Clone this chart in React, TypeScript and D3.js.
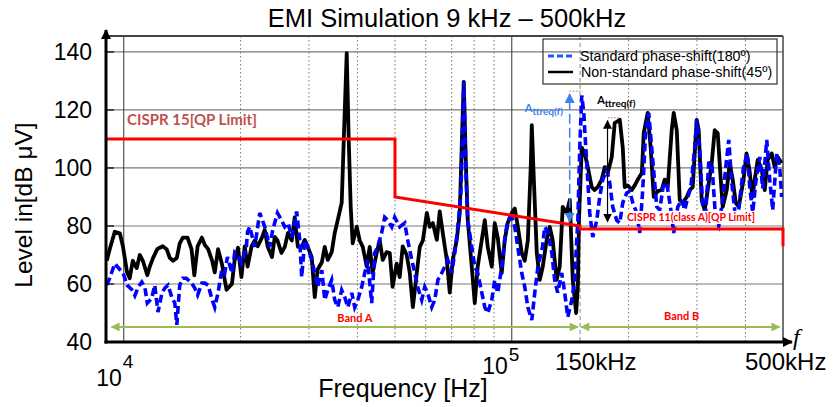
import React from 'react';
import * as d3 from 'd3';

// spectra: [frequency kHz, level dBµV]
const blackSpectrum: [number, number][] = [
  [9.04, 68], [9.2, 72], [9.48, 78], [9.77, 77.5], [9.95, 73], [10.2, 64], [10.36, 62], [10.55, 68], [10.8, 65.5], [11.0, 70],
  [11.2, 68], [11.5, 63], [11.67, 66], [11.9, 69], [12.2, 72], [12.38, 72.5], [12.6, 73], [12.9, 72], [13.14, 69], [13.4, 68],
  [13.7, 69], [13.94, 74], [14.2, 76], [14.6, 76], [14.95, 72], [15.2, 63], [15.5, 73], [15.9, 76], [16.17, 73.5], [16.5, 72],
  [16.9, 68], [17.16, 64], [17.5, 72], [17.9, 67], [18.4, 58], [19.0, 60], [19.3, 68], [19.7, 72.5], [20.1, 62.4], [20.5, 73],
  [20.85, 66], [21.35, 73], [21.76, 75], [22.15, 73], [22.7, 76], [23.09, 78.6], [23.5, 72.8], [24.1, 69.3], [24.5, 76.2], [24.9, 75],
  [25.5, 70.7], [26.0, 72.8], [26.5, 77.6], [27.1, 75], [27.58, 83], [28.1, 72.8], [28.75, 72.8], [29.27, 75.2], [29.8, 72.8], [30.5, 69.3],
  [31.06, 55.5], [31.6, 65], [32.4, 67.5], [32.96, 72.8], [33.55, 68.3], [34.35, 71], [34.97, 77.6], [35.6, 82], [36.45, 88], [36.9, 109.7],
  [37.55, 139.6], [38.0, 109.7], [38.45, 86.6], [38.9, 74], [39.85, 79.7], [40.56, 75], [41.3, 72.8], [42.3, 66], [43.04, 72.8], [43.8, 63.8],
  [44.85, 70.7], [45.68, 75], [46.5, 68.3], [47.6, 71], [48.47, 70.7], [49.3, 59], [50.5, 67], [51.43, 62.4], [52.35, 73], [53.6, 70],
  [54.57, 64], [55.6, 52], [56.9, 63.8], [57.93, 72.8], [59.0, 75], [60.4, 84.5], [61.47, 79.7], [62.6, 81], [64.1, 75.2], [65.22, 85],
  [66.4, 77.6], [68.0, 68.3], [69.21, 57], [70.45, 68.3], [72.15, 75.2], [73.44, 84.5], [74.55, 114], [75.2, 129.7], [76.1, 102.8], [77.0, 82],
  [78.85, 66], [80.28, 53.4], [81.7, 66], [83.7, 75.2], [85.19, 82], [86.7, 72.8], [88.8, 66], [90.39, 81], [92.0, 76], [94.2, 63.8],
  [95.92, 75.2], [97.6, 81], [100.0, 84.5], [101.8, 86], [103.6, 80], [106.1, 70.7], [108, 68], [110, 75], [112, 101.7], [112.6, 114.8],
  [114, 95.9], [116, 70.7], [118.1, 61.4], [120.2, 66], [123, 75.2], [125.3, 79.7], [127.5, 75], [130.5, 61.4], [132.9, 66], [135.3, 86.6],
  [138.5, 84.5], [141.1, 89], [143.6, 61.4], [146.5, 50], [148, 59], [149, 82], [151.5, 107], [154.2, 105], [157, 100.3], [160.7, 93.4],
  [163.6, 92.4], [166.5, 93.4], [170.5, 96], [173.6, 100.3], [176.8, 98.3], [181, 103.8], [184.2, 115.5], [189.8, 116.6], [193.2, 107], [195.5, 93.4],
  [199, 94], [203.8, 92.4], [207.4, 94], [211.2, 96], [216.4, 98.3], [218.8, 112], [224, 119], [228, 107], [232.2, 90], [237.8, 92],
  [243.4, 92.4], [247.8, 96], [252.3, 93.4], [258.3, 113], [261.4, 119], [266.2, 113], [270.9, 89], [275.8, 88], [282.4, 90], [287.5, 92.4],
  [292.6, 93.4], [299.6, 116.6], [303.2, 113], [308.6, 89], [314.2, 85.5], [319.9, 92.4], [327.6, 101.7], [333.4, 113], [339.4, 112], [345.6, 96],
  [349.7, 86.6], [358.1, 92.4], [364.5, 101.7], [371, 96], [377.7, 88], [384.5, 86.6], [395.6, 96], [402.6, 105], [409.8, 99.3], [417, 90],
  [422.8, 96], [430.4, 102.8], [440.8, 99.3], [448.6, 92.4], [456.6, 102.8], [467.6, 105], [476.1, 100.3], [484.6, 103.8], [496, 101.7],
];

const blueSpectrum: [number, number][] = [
  [9.04, 59.6], [9.2, 62], [9.48, 67], [9.77, 65], [9.95, 64], [10.2, 59.6], [10.5, 58], [10.68, 56], [10.9, 59], [11.13, 60.7],
  [11.33, 59], [11.5, 53.4], [11.8, 55], [12.02, 59.6], [12.25, 50.3], [12.55, 57], [12.76, 58.6], [13.0, 59.6], [13.3, 55.5], [13.54, 53.4],
  [13.7, 45.9], [13.94, 59.6], [14.2, 62], [14.5, 62], [14.95, 60.3], [15.24, 58.6], [15.5, 56.2], [15.9, 60.3], [16.17, 60.3], [16.5, 59.6],
  [16.9, 54.5], [17.16, 52], [17.5, 57], [17.9, 65], [18.21, 63.8], [18.5, 69.3], [19.0, 63.8], [19.32, 70.7], [19.7, 69.3], [20.1, 67.2],
  [20.7, 72.8], [20.85, 78], [21.12, 79.7], [21.76, 72.8], [22.41, 84.5], [23.09, 79.7], [23.78, 72.8], [24.2, 78.6], [24.9, 84.5], [25.5, 82],
  [25.99, 79.7], [26.5, 81], [27.1, 76.2], [27.9, 85], [28.41, 75.2], [28.75, 62.4], [29.27, 75.2], [29.8, 72.8], [30.5, 68.3], [31.06, 63.8],
  [31.6, 59], [32.4, 64.8], [32.96, 54.5], [33.55, 57.9], [34.35, 61.4], [34.97, 54.5], [35.6, 52], [36.45, 57.9], [37.11, 55.5], [37.8, 52],
  [38.7, 56.9], [39.38, 52], [40.1, 54.5], [41.05, 59], [41.79, 63.8], [42.5, 68.3], [43.55, 53.4], [44.34, 70.7], [45.1, 72.8], [46.2, 77.6],
  [47.05, 83], [47.9, 82], [49.05, 79.7], [49.93, 83], [51.43, 79.7], [52.98, 81], [53.9, 75.2], [55.25, 68.3], [56.23, 63.8], [57.2, 59],
  [58.6, 54.5], [59.67, 59], [60.7, 56.9], [62.2, 52], [63.32, 54.5], [64.5, 61.4], [66, 63.8], [67.19, 66], [68.4, 68.3], [70.0, 63.8],
  [71.3, 70.7], [72.6, 79.7], [73.9, 91], [74.8, 114], [75.2, 129.7], [76.1, 101], [77.0, 82], [78.85, 72.8], [80.28, 66], [81.7, 63.8],
  [83.7, 57], [85.19, 52], [86.7, 50], [88.8, 54.5], [90.39, 61.4], [92.0, 56.9], [94.2, 66], [95.92, 75.2], [97.6, 82], [100, 83],
  [101.8, 79.7], [103.6, 72.8], [106.1, 63.8], [108, 59], [110, 52], [112.6, 47.6], [114.6, 56.9], [116.8, 66], [120, 72.8], [121.6, 79.7],
  [123.8, 78], [126.8, 70.7], [129, 61.4], [131.3, 57], [134.5, 63.8], [136.9, 57], [139.4, 48.6], [142.8, 54.5], [145.3, 61.4], [147, 75],
  [148, 82], [149.7, 107], [151.5, 125], [153.3, 119], [156, 101.7], [158.8, 84.5], [161.7, 76.2], [165.6, 82], [168.5, 90], [171.6, 96],
  [175.7, 99.3], [178.8, 95], [182, 86.6], [186.4, 82], [189.8, 81], [193.2, 88], [197.8, 91.4], [201.4, 92], [205, 88], [209.9, 84.5],
  [213.7, 77.6], [217.5, 92.4], [221.4, 113], [225.4, 119], [229.4, 107], [236.4, 86.6], [240.6, 85.5], [245.4, 93.4], [250.8, 95], [257, 85.5],
  [261.4, 77.6], [267.8, 86.6], [274.2, 89], [279.1, 85.5], [284.2, 90], [289.2, 93], [296.1, 107], [299.6, 116.6], [305, 107], [310.5, 86.6],
  [316, 84.5], [321.8, 101.7], [327.6, 102], [335.4, 82], [341.4, 80], [349.7, 89], [356, 100.3], [362.4, 109.7], [368.8, 95], [377.7, 82],
  [384.5, 86], [395.6, 100.3], [405, 105], [410.4, 93.4], [417.8, 84.5], [425.3, 95], [435.5, 103.8], [443.3, 93], [454, 109.7], [462.1, 96],
  [470.4, 85.5], [481.8, 105], [490.4, 100.3], [496, 90],
];

// CISPR 15 / CISPR 11 (class A) quasi-peak limit
const limitFreq = [9, 50, 50, 150, 150, 500, 500];
const limitLevel = [110, 110, 90, 80, 79, 79, 73];

const levelTicks = [40, 60, 80, 100, 120, 140];
const decadeFreqs = [10, 100];
const minorFreqs = [20, 30, 40, 50, 60, 70, 80, 90, 200, 300, 400];
const bandEdge = 150;
const seriesNames = ['Standard phase-shift(180º)', 'Non-standard phase-shift(45º)'];

const SANS = '"Liberation Sans", Arial, sans-serif';
const CAL = 'Lato, "Open Sans", sans-serif';

export default function App() {
  const W = 837;
  const H = 407;
  const left = 106, right = 783, top = 36, bottom = 342;

  const x = d3.scaleLog().domain([9, 500]).range([left, right]);
  const y = d3.scaleLinear().domain([40, 145.5]).range([bottom, top]);
  const line = d3.line<[number, number]>().x((d) => x(d[0])).y((d) => y(d[1]));
  const limit = limitFreq.map((f, i) => [f, limitLevel[i]] as [number, number]);

  const blueAnn = '#3b82f0';

  return (
    <svg width={W} height={H} style={{ position: 'absolute', left: 0, top: 0 }}>
      <defs>
        <clipPath id="plot">
          <rect x={left} y={top} width={right - left} height={bottom - top} />
        </clipPath>
        <marker id="ax" viewBox="0 0 10 10" refX="9" refY="5" markerWidth="10" markerHeight="10" markerUnits="userSpaceOnUse" orient="auto-start-reverse">
          <path d="M0,0 L10,5 L0,10 z" fill="#000" />
        </marker>
        <marker id="grn" viewBox="0 0 10 10" refX="9" refY="5" markerWidth="11" markerHeight="9" markerUnits="userSpaceOnUse" orient="auto-start-reverse">
          <path d="M0,0 L10,5 L0,10 z" fill="#9bbb59" />
        </marker>
        <marker id="blk" viewBox="0 0 10 10" refX="9" refY="5" markerWidth="9" markerHeight="9" markerUnits="userSpaceOnUse" orient="auto-start-reverse">
          <path d="M0,0 L10,5 L0,10 z" fill="#000" />
        </marker>
        <marker id="blu" viewBox="0 0 10 10" refX="9" refY="5" markerWidth="10" markerHeight="10" markerUnits="userSpaceOnUse" orient="auto-start-reverse">
          <path d="M0,0 L10,5 L0,10 z" fill={blueAnn} />
        </marker>
      </defs>

      {/* title */}
      <text x={447} y={27} textAnchor="middle" fontFamily={SANS} fontSize={25.5}>
        EMI Simulation 9 kHz – 500kHz
      </text>

      {/* grid */}
      {levelTicks.filter((t) => t > 40).map((t) => (
        <g key={'h' + t}>
          <line x1={left} x2={right} y1={y(t)} y2={y(t)} stroke="#7a7a7a" strokeWidth={1.2} />
          <line x1={left} x2={left + 8} y1={y(t)} y2={y(t)} stroke="#222" strokeWidth={1.5} />
        </g>
      ))}
      {minorFreqs.map((f) => (
        <line key={'m' + f} x1={x(f)} x2={x(f)} y1={top} y2={bottom} stroke="#777" strokeWidth={1} strokeDasharray="1.5 2.5" />
      ))}
      <line x1={x(bandEdge)} x2={x(bandEdge)} y1={top} y2={bottom} stroke="#888" strokeWidth={1} strokeDasharray="4 3" />
      {decadeFreqs.map((f) => (
        <line key={'d' + f} x1={x(f)} x2={x(f)} y1={top} y2={bottom} stroke="#333" strokeWidth={1} />
      ))}
      <line x1={left} x2={right} y1={top} y2={top} stroke="#444" strokeWidth={2} />
      <line x1={right} x2={right} y1={top} y2={bottom} stroke="#444" strokeWidth={1.5} />

      {/* spectra */}
      <g clipPath="url(#plot)">
        <path d={line(blackSpectrum) || ''} fill="none" stroke="#000" strokeWidth={3.8} strokeLinejoin="round" />
        <path d={line(blueSpectrum) || ''} fill="none" stroke="#0000ff" strokeWidth={3.6} strokeDasharray="8 4" />
      </g>

      {/* limit */}
      <path d={line(limit) || ''} fill="none" stroke="#ff0000" strokeWidth={3} />
      <text x={x(10.2)} y={y(114.8)} fontFamily={CAL} fontWeight="bold" fontSize={15} fill="#c0504d">
        CISPR 15[QP Limit]
      </text>
      <rect x={x(196)} y={y(85.2)} width={x(448) - x(196)} height={y(81.4) - y(85.2) + 2} fill="#fff" />
      <text x={x(198)} y={y(81.6)} fontFamily={CAL} fontWeight="bold" fontSize={10.5} fill="#ff0000">
        CISPR 11(class A)[QP Limit]
      </text>

      {/* bands */}
      <line x1={x(9.3)} x2={x(148)} y1={y(45.2)} y2={y(45.2)} stroke="#9bbb59" strokeWidth={2} markerStart="url(#grn)" markerEnd="url(#grn)" />
      <line x1={x(151)} x2={x(490)} y1={y(45.2)} y2={y(45.2)} stroke="#9bbb59" strokeWidth={2} markerStart="url(#grn)" markerEnd="url(#grn)" />
      <text x={x(39.4)} y={y(46.9)} textAnchor="middle" fontFamily={CAL} fontWeight="bold" fontSize={11} fill="#ff0000">Band A</text>
      <text x={x(274)} y={y(47.6)} textAnchor="middle" fontFamily={CAL} fontWeight="bold" fontSize={11} fill="#ff0000">Band B</text>

      {/* attenuation annotations */}
      <line x1={x(141)} x2={x(141)} y1={y(81.5)} y2={y(125.5)} stroke={blueAnn} strokeWidth={1.5} strokeDasharray="10 4" markerStart="url(#blu)" markerEnd="url(#blu)" />
      <line x1={x(141)} x2={x(152)} y1={y(126.5)} y2={y(126.5)} stroke="#e06060" strokeWidth={1} strokeDasharray="1.5 1.5" />
      <text x={x(108)} y={y(119.4)} fontFamily={CAL} fontWeight="bold" fill={blueAnn}>
        <tspan fontSize={11}>A</tspan>
        <tspan fontSize={10} dy={3}>ttreq(f)</tspan>
      </text>
      <line x1={x(176.5)} x2={x(176.5)} y1={y(81.5)} y2={y(116.3)} stroke="#000" strokeWidth={1.2} markerStart="url(#blk)" markerEnd="url(#blk)" />
      <line x1={x(177)} x2={x(189)} y1={y(117.3)} y2={y(117.3)} stroke="#e06060" strokeWidth={1} strokeDasharray="1.5 1.5" />
      <text x={x(166)} y={y(122.2)} fontFamily={CAL} fontWeight="bold" fill="#000">
        <tspan fontSize={11}>A</tspan>
        <tspan fontSize={10} dy={3}>ttreq(f)</tspan>
      </text>

      {/* axes */}
      <line x1={left} x2={left} y1={bottom + 1.5} y2={top - 6} stroke="#000" strokeWidth={3} markerEnd="url(#ax)" />
      <line x1={left - 1.5} x2={right + 9} y1={bottom} y2={bottom} stroke="#000" strokeWidth={3} markerEnd="url(#ax)" />
      <text x={right + 10} y={bottom + 3} fontFamily='"Liberation Serif", serif' fontStyle="italic" fontSize={24}>f</text>

      {levelTicks.map((t) => (
        <text key={'yl' + t} x={92} y={y(t)} dy="0.35em" textAnchor="end" fontFamily={SANS} fontSize={23}>
          {t}
        </text>
      ))}
      <text x={x(10) - 2} y={386} textAnchor="end" fontFamily={SANS} fontSize={23}>10</text>
      <text x={x(10) - 1} y={368} fontFamily={SANS} fontSize={19}>4</text>
      <text x={x(100) - 4} y={374} textAnchor="end" fontFamily={SANS} fontSize={23}>10</text>
      <text x={x(100) - 3} y={361} fontFamily={SANS} fontSize={19}>5</text>
      <text x={x(150) - 25} y={370} fontFamily={SANS} fontSize={24}>150kHz</text>
      <text x={x(500) - 38} y={370} fontFamily={SANS} fontSize={24}>500kHz</text>

      <text x={403} y={397} textAnchor="middle" fontFamily={SANS} fontSize={25}>Frequency [Hz]</text>
      <text transform="translate(32,205) rotate(-90)" textAnchor="middle" fontFamily={SANS} fontSize={24.5}>
        Level in[dB μV]
      </text>

      {/* legend */}
      <rect x={543} y={39} width={234} height={45} fill="none" stroke="#333" strokeWidth={1.2} />
      <line x1={548} x2={573} y1={56} y2={56} stroke="#1a5cff" strokeWidth={3} strokeDasharray="6 3" />
      <text x={580} y={56} dy="0.35em" fontFamily={SANS} fontSize={14.3}>{seriesNames[0]}</text>
      <line x1={548} x2={573} y1={72} y2={72} stroke="#000" strokeWidth={2.5} />
      <text x={581} y={72} dy="0.35em" fontFamily={SANS} fontSize={14.3}>{seriesNames[1]}</text>
    </svg>
  );
}
